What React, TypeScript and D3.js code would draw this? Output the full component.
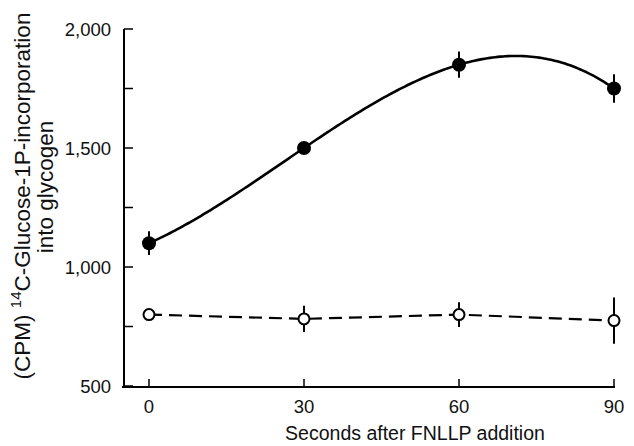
import React from "react";
import * as d3 from "d3";

const seconds = [0, 30, 60, 90];
const fnllpValues = [1100, 1500, 1850, 1750];
const fnllpErrors = [50, 15, 55, 60];
const controlValues = [800, 782, 800, 775];
const controlErrors = [0, 55, 52, 97];
const yMajorTicks = [500, 1000, 1500, 2000];
const yMinorTicks = [750, 1250, 1750];
const xTicks = [0, 30, 60, 90];

const W = 634;
const H = 446;

// smooth interpolating polynomial through the measured points (Lagrange form)
function interp(xs: number[], ys: number[], t: number) {
  let s = 0;
  for (let i = 0; i < xs.length; i++) {
    let p = ys[i];
    for (let j = 0; j < xs.length; j++) {
      if (j !== i) p *= (t - xs[j]) / (xs[i] - xs[j]);
    }
    s += p;
  }
  return s;
}

export default function App() {
  const x = d3.scaleLinear().domain([0, 90]).range([149, 614]);
  const y = d3.scaleLinear().domain([500, 2000]).range([386, 29]);
  const font = "'Liberation Sans', Arial, Helvetica, sans-serif";

  const samples = d3.range(0, 90.001, 0.5);
  const curve =
    d3
      .line<number>()
      .x((t) => x(t))
      .y((t) => y(interp(seconds, fnllpValues, t)))(samples) || "";
  const openPts: [number, number][] = seconds.map((s, i) => [x(s), y(controlValues[i])]);
  const dashed = d3.line()(openPts) || "";
  const fmt = d3.format(",");

  return (
    <svg width={W} height={H} style={{ position: "absolute", left: 0, top: 0, background: "#fff" }}>
      {/* axes */}
      <line x1={124} x2={124} y1={y(2000)} y2={387} stroke="#000" strokeWidth={2} />
      <line x1={122} x2={x(90) + 1} y1={387} y2={387} stroke="#000" strokeWidth={2} />
      {yMajorTicks.concat(yMinorTicks).map((t) => (
        <line key={"yt" + t} x1={124} x2={133} y1={y(t)} y2={y(t)} stroke="#000" strokeWidth={1.5} />
      ))}
      {xTicks.map((t) => (
        <line key={"xt" + t} x1={x(t)} x2={x(t)} y1={387} y2={379} stroke="#000" strokeWidth={1.5} />
      ))}
      {yMajorTicks.map((t) => (
        <text key={"yl" + t} x={111} y={y(t)} dy="0.36em" textAnchor="end" fontFamily={font} fontSize={18.5} fill="#111">
          {fmt(t)}
        </text>
      ))}
      {xTicks.map((t) => (
        <text key={"xl" + t} x={x(t)} y={413} textAnchor="middle" fontFamily={font} fontSize={18.5} fill="#111">
          {t}
        </text>
      ))}
      <text x={415} y={440} textAnchor="middle" fontFamily={font} fontSize={19.5} fill="#111">
        Seconds after FNLLP addition
      </text>
      <g transform="rotate(-90)">
        <text x={-196} y={30} textAnchor="middle" fontFamily={font} fontSize={22.5} fill="#111">
          (CPM) <tspan fontSize={15} dy={-9}>14</tspan>
          <tspan dy={9}>C-Glucose-1P-incorporation</tspan>
        </text>
        <text x={-187} y={53} textAnchor="middle" fontFamily={font} fontSize={22.5} fill="#111">
          into glycogen
        </text>
      </g>

      {/* filled series */}
      <path d={curve} fill="none" stroke="#000" strokeWidth={2.6} />
      {seconds.map((s, i) => (
        <g key={"f" + s}>
          <line x1={x(s)} x2={x(s)} y1={y(fnllpValues[i] + fnllpErrors[i])} y2={y(fnllpValues[i] - fnllpErrors[i])} stroke="#000" strokeWidth={2} />
          <circle cx={x(s)} cy={y(fnllpValues[i])} r={7} fill="#000" />
        </g>
      ))}

      {/* open series */}
      <path d={dashed} fill="none" stroke="#000" strokeWidth={2.2} strokeDasharray="13 7" />
      {seconds.map((s, i) => (
        <g key={"o" + s}>
          {controlErrors[i] > 0 && (
            <line x1={x(s)} x2={x(s)} y1={y(controlValues[i] + controlErrors[i])} y2={y(controlValues[i] - controlErrors[i])} stroke="#000" strokeWidth={2} />
          )}
          <circle cx={x(s)} cy={y(controlValues[i])} r={5.5} fill="#fff" stroke="#000" strokeWidth={2} />
        </g>
      ))}
    </svg>
  );
}
